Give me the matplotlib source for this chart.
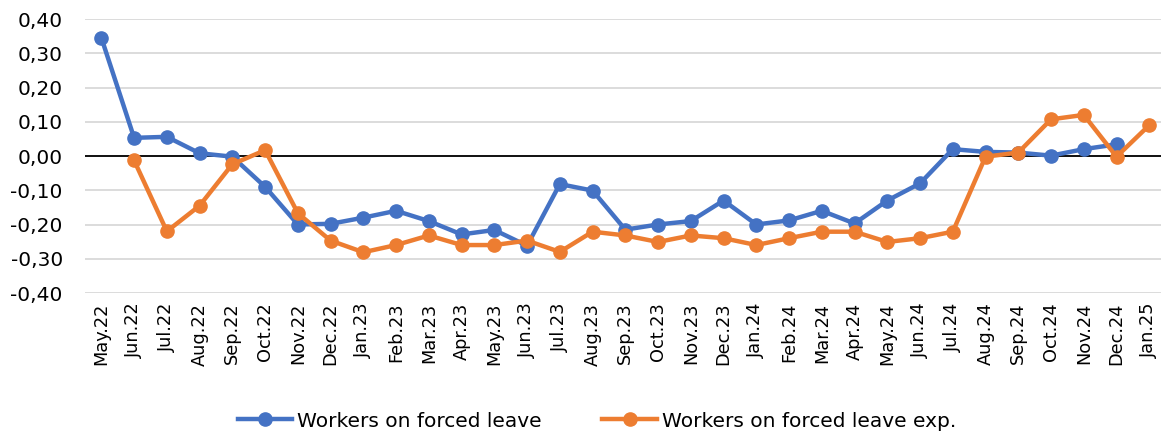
import numpy as np
import matplotlib.pyplot as plt
from matplotlib.ticker import FuncFormatter

MONTHS = ["May.22", "Jun.22", "Jul.22", "Aug.22", "Sep.22", "Oct.22", "Nov.22", "Dec.22",
          "Jan.23", "Feb.23", "Mar.23", "Apr.23", "May.23", "Jun.23", "Jul.23", "Aug.23",
          "Sep.23", "Oct.23", "Nov.23", "Dec.23", "Jan.24", "Feb.24", "Mar.24", "Apr.24",
          "May.24", "Jun.24", "Jul.24", "Aug.24", "Sep.24", "Oct.24", "Nov.24", "Dec.24",
          "Jan.25"]

# nan = no value for that month
FORCED_LEAVE = [0.345, 0.053, 0.056, 0.008, -0.002, -0.09, -0.20, -0.198,
                -0.18, -0.16, -0.19, -0.229, -0.216, -0.262, -0.082, -0.101,
                -0.215, -0.20, -0.19, -0.13, -0.20, -0.188, -0.16, -0.197,
                -0.13, -0.08, 0.02, 0.012, 0.01, 0.001, 0.02, 0.034,
                np.nan]
FORCED_LEAVE_EXP = [np.nan, -0.013, -0.22, -0.145, -0.024, 0.017, -0.167, -0.247,
                    -0.281, -0.26, -0.232, -0.26, -0.26, -0.247, -0.28, -0.221,
                    -0.232, -0.251, -0.232, -0.24, -0.26, -0.24, -0.221, -0.221,
                    -0.251, -0.24, -0.221, -0.002, 0.01, 0.107, 0.12, -0.002,
                    0.09]

BLUE = "#4472C4"
ORANGE = "#ED7D31"

fig = plt.figure(figsize=(11.61, 4.36), dpi=100)
ax = fig.add_axes([85 / 1161, 1 - 293 / 436, 1 - 85 / 1161 + 0.004, (293 - 19) / 436])

x = np.arange(len(MONTHS))
ax.plot(x, FORCED_LEAVE, color=BLUE, lw=3.2, marker="o", ms=9.5,
        label="Workers on forced leave", zorder=3)
ax.plot(x, FORCED_LEAVE_EXP, color=ORANGE, lw=3.2, marker="o", ms=9.5,
        label="Workers on forced leave exp.", zorder=4)

ax.set_xlim(-0.5, len(MONTHS) - 0.5)
ax.set_ylim(-0.40, 0.40)
ax.set_yticks(np.arange(-0.40, 0.41, 0.10))
ax.yaxis.set_major_formatter(FuncFormatter(lambda v, p: f"{v:.2f}".replace(".", ",").replace("-0,00", "0,00")))
ax.set_xticks(x)
ax.set_xticklabels(MONTHS, rotation=90)

ax.grid(axis="y", color="#D9D9D9", lw=1.3, zorder=0)
ax.axhline(0, color="black", lw=1.3, zorder=2)
for s in ax.spines.values():
    s.set_visible(False)
ax.tick_params(axis="both", length=0, colors="#000000")
ax.tick_params(axis="y", pad=16, labelsize=14.5)
ax.tick_params(axis="x", pad=7, labelsize=12.8)

fig.legend(loc="center", bbox_to_anchor=(597 / 1161, 1 - 421 / 436), ncol=2, frameon=False,
           fontsize=14.5, handlelength=2.7, columnspacing=3.0, handletextpad=0.25)

fig.savefig("out.png", dpi=100)
